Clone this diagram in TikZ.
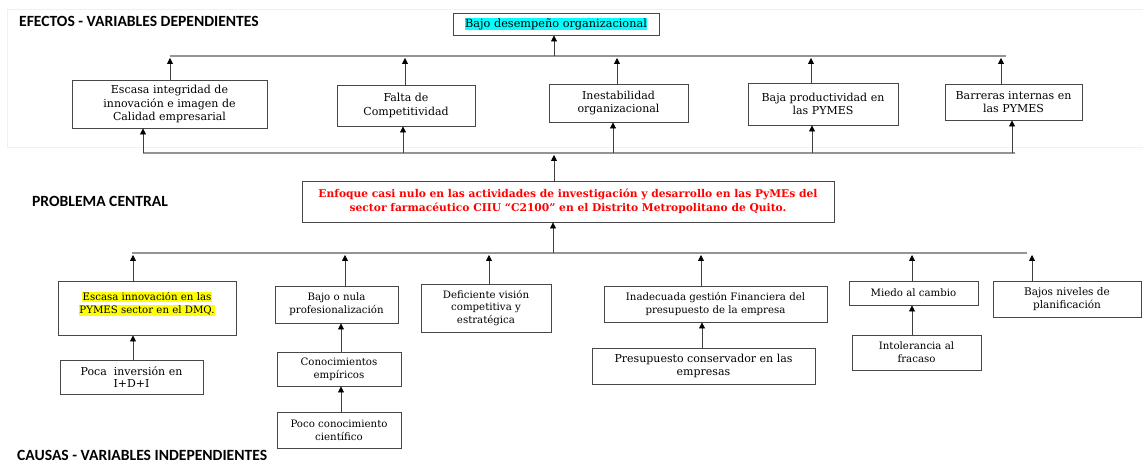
\documentclass[tikz,border=0pt]{standalone}
\usepackage{fontspec}
\setmainfont{DejaVu Serif}
\newfontfamily\headfont{Carlito}
\usetikzlibrary{arrows.meta}
\definecolor{hlcyan}{RGB}{0,255,255}
\definecolor{hlyellow}{RGB}{255,255,0}
\definecolor{redtxt}{RGB}{255,0,0}
\begin{document}
\begin{tikzpicture}[x=1pt,y=-1pt,
  box/.style={draw=black!72, line width=0.9pt, align=center, inner sep=0pt,
    font=\fontsize{10.2}{12.8}\selectfont},
  ebox/.style={box, font=\fontsize{11}{13.8}\selectfont},
  arr/.style={draw=black!75, line width=0.8pt, -{Triangle[width=6pt,length=6pt,color=black]}},
  bus/.style={draw=black!42, line width=1.6pt},
  head/.style={font=\headfont\bfseries\fontsize{15.6}{17}\selectfont, anchor=west, inner sep=0pt}
]
\useasboundingbox (0,0) rectangle (1143,462);
\draw[black!6, line width=0.8pt] (7,147) -- (7,9) -- (1143,9);
\draw[black!6, line width=0.8pt] (7,147) -- (1143,147);

% headings
\node[head] (h1) at (19,21.5) {EFECTOS - VARIABLES DEPENDIENTES};
\node[head] (h2) at (32,201.5) {PROBLEMA CENTRAL};
\node[head] (h3) at (17,455) {CAUSAS - VARIABLES INDEPENDIENTES};

% effects
\node[ebox, minimum width=206pt, minimum height=22pt,
  font=\fontsize{11.3}{13.8}\selectfont] (T) at (556,24)
  {\setlength{\fboxsep}{0.6pt}\colorbox{hlcyan}{Bajo desempeño organizacional}};
\node[ebox, minimum width=195pt, minimum height=48pt] (E1) at (169.5,104)
  {Escasa integridad de\\innovación e imagen de\\Calidad empresarial};
\node[ebox, minimum width=138pt, minimum height=41pt] (E2) at (406,105.5)
  {Falta de\\Competitividad};
\node[ebox, minimum width=139pt, minimum height=38pt] (E3) at (618.5,103)
  {Inestabilidad\\organizacional};
\node[ebox, minimum width=150pt, minimum height=42pt] (E4) at (823,104)
  {Baja productividad en\\las PYMES};
\node[ebox, minimum width=137pt, minimum height=36pt] (E5) at (1013.5,102)
  {Barreras internas en\\las PYMES};

% central problem
\node[box, minimum width=532pt, minimum height=41pt, text=redtxt,
  font=\bfseries\fontsize{10.7}{14}\selectfont] (C) at (568,201.5)
  {Enfoque casi nulo en las actividades de investigación y desarrollo en las PyMEs del\\
   sector farmacéutico CIIU “C2100” en el Distrito Metropolitano de Quito.};

% causes
\node[box, minimum width=178pt, minimum height=54pt] (K1) at (147,308)
  {\setlength{\fboxsep}{0.8pt}\colorbox{hlyellow}{Escasa innovación en las}\\
   \setlength{\fboxsep}{0.8pt}\colorbox{hlyellow}{PYMES sector en el DMQ.}\\[-2pt]\mbox{}};
\node[box, minimum width=143pt, minimum height=34pt,
  font=\fontsize{11}{12}\selectfont] (K1s) at (131.5,377)
  {Poca\ \ inversión en\\I+D+I};
\node[box, minimum width=123pt, minimum height=37pt] (K2) at (336.5,304.5)
  {Bajo o nula\\profesionalización};
\node[box, minimum width=124pt, minimum height=34pt] (K2a) at (339,369)
  {Conocimientos\\empíricos};
\node[box, minimum width=124pt, minimum height=36pt] (K2b) at (339,430)
  {Poco conocimiento\\científico};
\node[box, minimum width=130pt, minimum height=48pt] (K3) at (486,308)
  {Deficiente visión\\competitiva y\\estratégica};
\node[box, minimum width=223pt, minimum height=36pt] (K4) at (715.5,304)
  {Inadecuada gestión Financiera del\\presupuesto de la empresa};
\node[box, minimum width=223pt, minimum height=36pt,
  font=\fontsize{11}{13}\selectfont] (K4s) at (703.5,366)
  {Presupuesto conservador en las\\empresas};
\node[box, minimum width=129pt, minimum height=24pt] (K5) at (913.5,293)
  {Miedo al cambio};
\node[box, minimum width=129pt, minimum height=35pt] (K5s) at (916.5,352.5)
  {Intolerancia al\\fracaso};
\node[box, minimum width=148pt, minimum height=36pt,
  font=\fontsize{10.5}{12.5}\selectfont] (K6) at (1067,299)
  {Bajos niveles de\\planificación};

% bus coordinates
\coordinate (ta) at (170,56);  \coordinate (tb) at (1006,56);
\coordinate (t0) at (554,56);
\coordinate (t1) at (170,58);  \coordinate (t2) at (405,58);
\coordinate (t3) at (617,58);  \coordinate (t4) at (811,58);
\coordinate (t5) at (1001,58);
\coordinate (ba) at (143,153); \coordinate (bb) at (1015,153);
\coordinate (b0) at (554,155);
\coordinate (b1) at (143,153); \coordinate (b2) at (403,153);
\coordinate (b3) at (613,153); \coordinate (b4) at (812,153);
\coordinate (b5) at (1012,153);
\coordinate (ca) at (132,253); \coordinate (cb) at (1027,253);
\coordinate (c0) at (553,253);
\coordinate (c1) at (133,255); \coordinate (c2) at (345,255);
\coordinate (c3) at (489,255); \coordinate (c4) at (701,255);
\coordinate (c5) at (912,255); \coordinate (c6) at (1032,255);

\draw[bus] (ta) -- (tb);
\draw[bus] (ba) -- (bb);
\draw[bus] (ca) -- (cb);

% effects arrows
\draw[arr] (t0) -- (T.south -| t0);
\foreach \n/\c in {E1/t1,E2/t2,E3/t3,E4/t4,E5/t5}
  \draw[arr] (\n.north -| \c) -- (\c);
\foreach \n/\c in {E1/b1,E2/b2,E3/b3,E4/b4,E5/b5}
  \draw[arr] (\c) -- (\n.south -| \c);
\draw[arr] (C.north -| b0) -- (b0);
\draw[arr] (c0) -- (C.south -| c0);

% causes arrows
\foreach \n/\c in {K1/c1,K2/c2,K3/c3,K4/c4,K5/c5,K6/c6}
  \draw[arr] (\n.north -| \c) -- (\c);
\coordinate (s1) at (133,0); \coordinate (s2) at (341,0);
\coordinate (s4) at (702,0); \coordinate (s5) at (912,0);
\draw[arr] (K1s.north -| s1) -- (K1.south -| s1);
\draw[arr] (K2a.north -| s2) -- (K2.south -| s2);
\draw[arr] (K2b.north -| s2) -- (K2a.south -| s2);
\draw[arr] (K4s.north -| s4) -- (K4.south -| s4);
\draw[arr] (K5s.north -| s5) -- (K5.south -| s5);
\end{tikzpicture}
\end{document}
